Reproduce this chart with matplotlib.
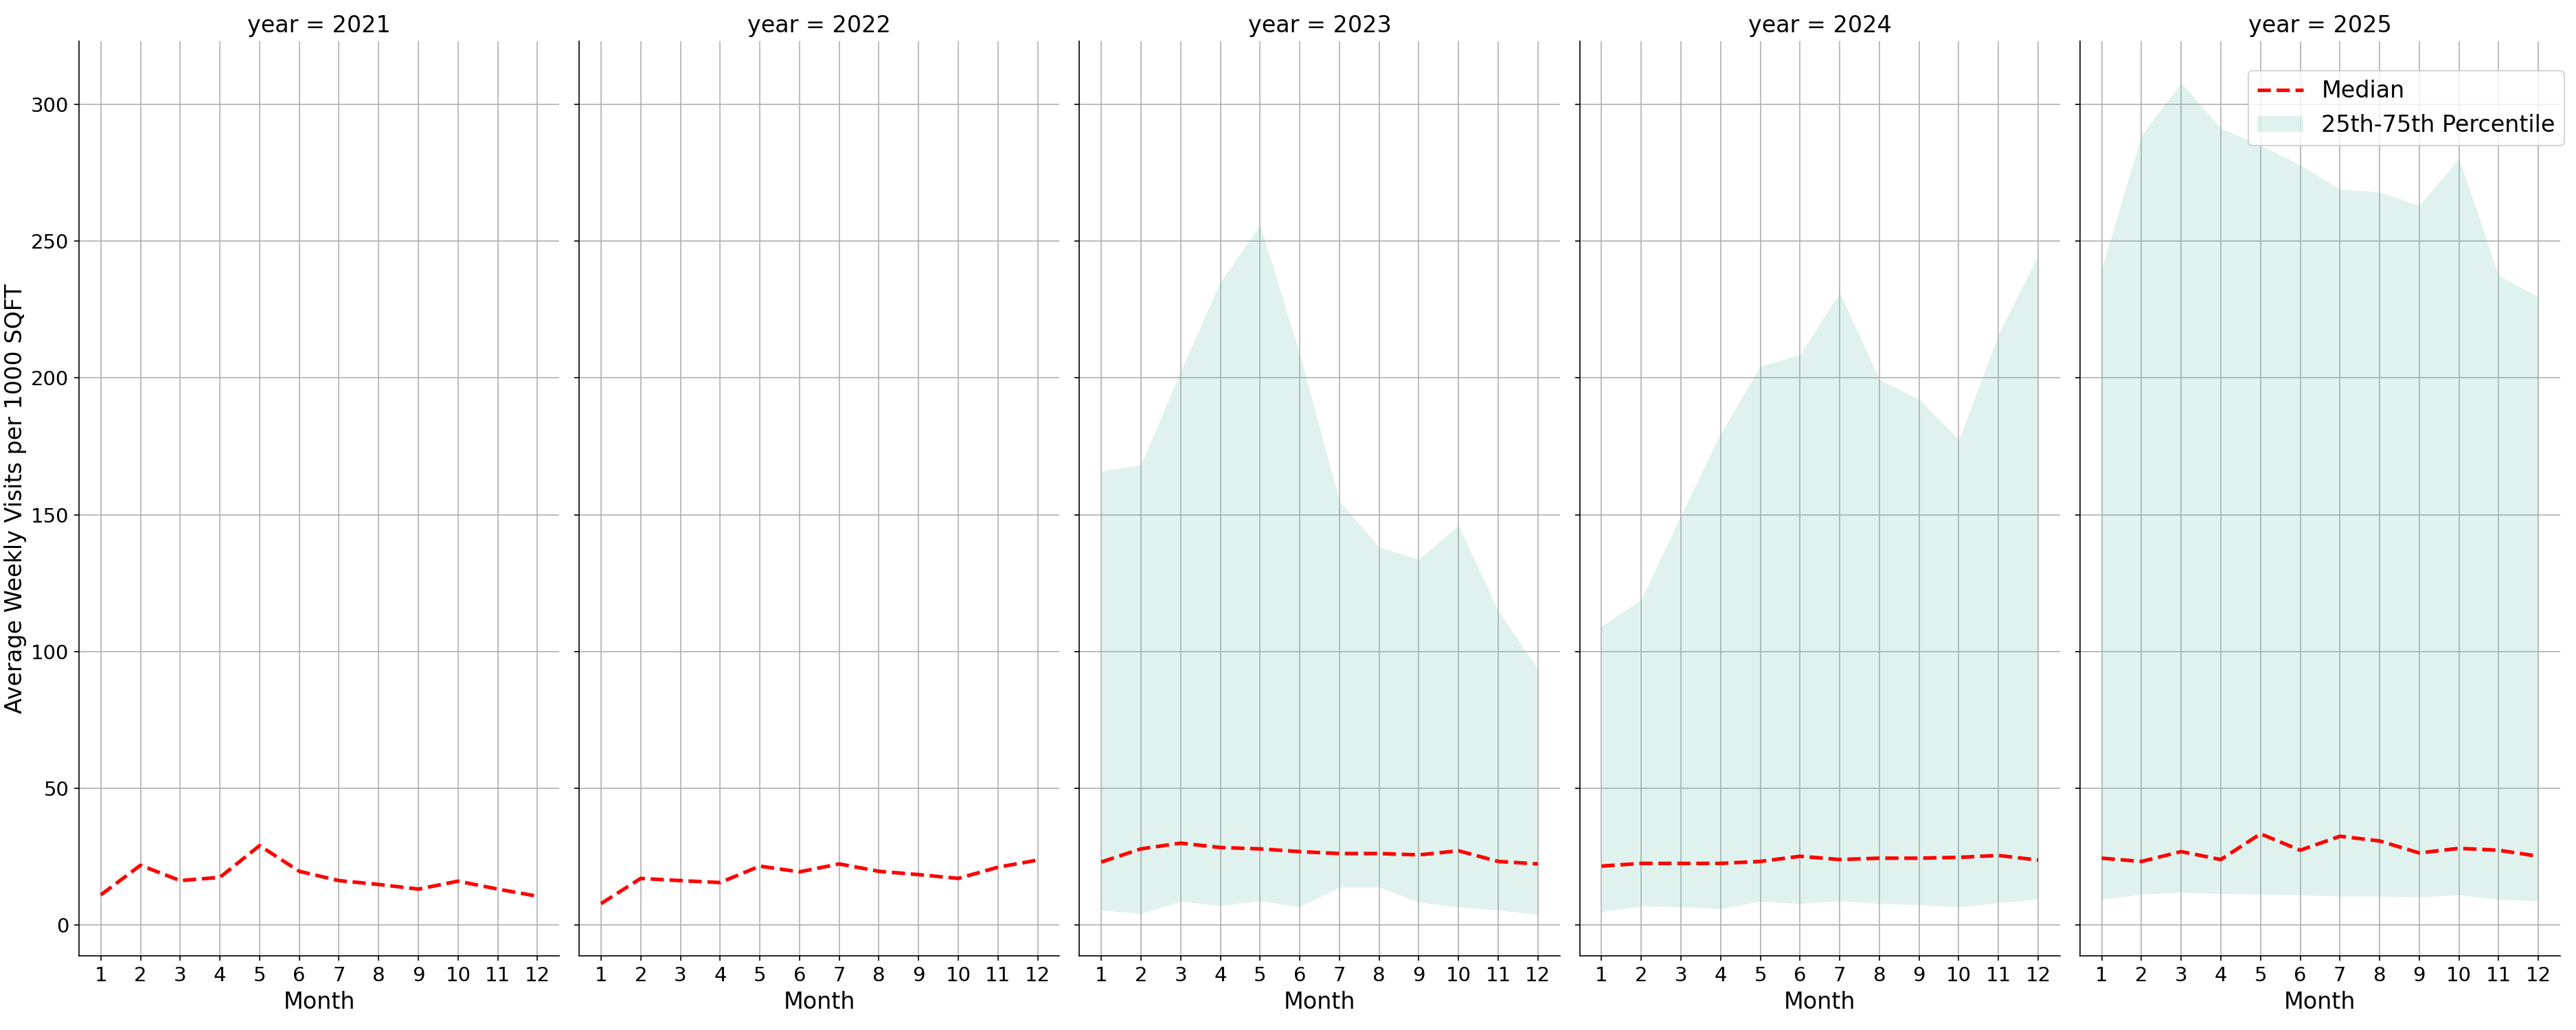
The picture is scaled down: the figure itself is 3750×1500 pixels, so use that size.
import numpy as np
import matplotlib
matplotlib.use("Agg")
import matplotlib.pyplot as plt

months = list(range(1, 13))
years = [2021, 2022, 2023, 2024, 2025]

# median of average weekly visits per 1000 sqft
median_2021 = [11.1, 21.9, 16.3, 17.5, 29.1, 19.7, 16.3, 14.9, 13.2, 16.1, 13.2, 10.6]
median_2022 = [7.9, 17.1, 16.3, 15.6, 21.6, 19.5, 22.4, 19.7, 18.5, 17.1, 21.2, 23.8]
median_2023 = [23.1, 27.9, 30.0, 28.4, 27.9, 26.9, 26.2, 26.2, 25.7, 27.2, 23.3, 22.4]
median_2024 = [21.6, 22.6, 22.6, 22.6, 23.3, 25.2, 24.0, 24.5, 24.5, 24.8, 25.5, 23.8]
median_2025 = [24.5, 23.3, 26.9, 24.0, 33.4, 27.4, 32.5, 30.8, 26.4, 28.1, 27.4, 25.2]

# 25th / 75th percentile (no band shown for 2021, 2022)
q25_2023 = [5.5, 4.3, 8.7, 7.2, 8.9, 6.7, 13.9, 13.9, 8.4, 6.7, 5.5, 4.0]
q75_2023 = [165.9, 168.3, 202.6, 235.1, 256.0, 208.7, 155.0, 138.2, 133.7, 146.2, 114.9, 93.8]
q25_2024 = [4.8, 7.0, 6.7, 6.0, 8.7, 7.9, 8.9, 7.9, 7.5, 6.7, 8.2, 9.6]
q75_2024 = [109.4, 119.0, 149.8, 179.8, 204.3, 208.4, 231.3, 199.5, 192.3, 177.4, 215.9, 244.7]
q25_2025 = [9.4, 11.3, 12.0, 11.5, 11.3, 11.1, 10.6, 10.6, 10.3, 11.1, 9.4, 8.9]
q75_2025 = [239.9, 288.7, 307.9, 291.3, 285.1, 277.9, 269.0, 268.0, 263.0, 280.3, 237.5, 229.6]

medians = [median_2021, median_2022, median_2023, median_2024, median_2025]
q25s = [None, None, q25_2023, q25_2024, q25_2025]
q75s = [None, None, q75_2023, q75_2024, q75_2025]

fig, axes = plt.subplots(1, 5, figsize=(25, 10), dpi=150, sharey=True)
fig.subplots_adjust(left=115 / 3750, right=3727 / 3750, bottom=1 - 1392 / 1500,
                    top=1 - 60 / 1500, wspace=0.0415)

for ax, year, med, lo, hi in zip(axes, years, medians, q25s, q75s):
    ax.set_axisbelow(True)
    ax.grid(True, color="#b0b0b0", linewidth=0.8)
    line, = ax.plot(months, med, color="red", linestyle="--", linewidth=2.5, label="Median")
    if lo is not None:
        band = ax.fill_between(months, lo, hi, color="#66c2a5", alpha=0.2,
                               linewidth=0, label="25th-75th Percentile")
    ax.set_title(f"year = {year}", fontsize=16)
    ax.set_xlabel("Month", fontsize=16)
    ax.set_xticks(months)
    ax.tick_params(labelsize=14)
    ax.spines["top"].set_visible(False)
    ax.spines["right"].set_visible(False)

axes[0].set_yticks([0, 50, 100, 150, 200, 250, 300])
axes[0].set_ylabel("Average Weekly Visits per 1000 SQFT", fontsize=16)
axes[0].yaxis.set_label_coords(-0.108, 0.5)

fig.legend(handles=[line, band], loc="upper right", fontsize=16,
           bbox_to_anchor=(3733 / 3750, 1 - 103 / 1500), borderaxespad=0)

fig.savefig("out.png", dpi=150)
